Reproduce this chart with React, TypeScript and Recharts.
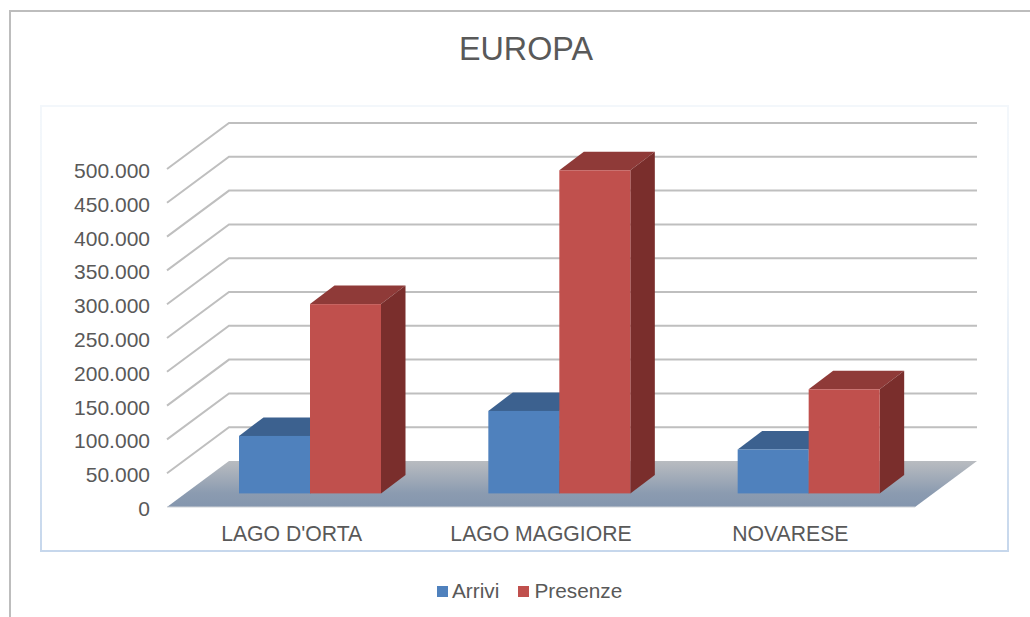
import React from "react";
import { BarChart, Bar, XAxis, YAxis, CartesianGrid, Legend } from "recharts";

const categories = ["LAGO D'ORTA", "LAGO MAGGIORE", "NOVARESE"];
const arrivi = [85000, 122000, 65000];
const presenze = [280000, 478000, 154000];
const yTicks = [0, 50000, 100000, 150000, 200000, 250000, 300000, 350000, 400000, 450000, 500000];
const rows = categories.map((name, i) => ({ name, arrivi: arrivi[i], presenze: presenze[i] }));

const FONT = "'Liberation Sans', Arial, sans-serif";
const TEXT = "#595959";
const WALL_DX = 62;
const WALL_DY = 46;
const BAR_DX = 18;
const BAR_DY = 13.6;
const DEPTH_X = 24.5;
const DEPTH_Y = 18.5;

const fmt = (v: number) => (v === 0 ? "0" : `${Math.round(v / 1000)}.000`);

function GridLine(props: any) {
  const { x1, x2, y1, y, height } = props;
  const isFloor = Math.abs(y1 - (y + height)) < 0.5;
  return (
    <g>
      {isFloor && (
        <>
          <defs>
            <linearGradient id="floorFill" x1="0" y1="0" x2="0" y2="1">
              <stop offset="0" stopColor="#B9BCC0" />
              <stop offset="0.7" stopColor="#8B9BB0" />
              <stop offset="1" stopColor="#8496AE" />
            </linearGradient>
          </defs>
          <polygon
            points={`${x1},${y1} ${x2},${y1} ${x2 + WALL_DX},${y1 - WALL_DY} ${x1 + WALL_DX},${y1 - WALL_DY}`}
            fill="url(#floorFill)"
          />
          <line x1={x1} y1={y1} x2={x2} y2={y1} stroke="#D0D3D8" strokeWidth={1} />
        </>
      )}
      {!isFloor && (
        <path
          d={`M${x1},${y1} L${x1 + WALL_DX},${y1 - WALL_DY} L${x2 + WALL_DX},${y1 - WALL_DY}`}
          fill="none"
          stroke="#BFBFBF"
          strokeWidth={2}
        />
      )}
    </g>
  );
}

function Box3D(props: any) {
  const { x, y, width, height, front, top, side } = props;
  const l = x + BAR_DX;
  const r = l + width;
  const t = y - BAR_DY;
  const b = y + height - BAR_DY;
  return (
    <g>
      <polygon
        points={`${l},${t} ${l + DEPTH_X},${t - DEPTH_Y} ${r + DEPTH_X},${t - DEPTH_Y} ${r},${t}`}
        fill={top}
      />
      <polygon
        points={`${r},${t} ${r + DEPTH_X},${t - DEPTH_Y} ${r + DEPTH_X},${b - DEPTH_Y} ${r},${b}`}
        fill={side}
      />
      <rect x={l} y={t} width={width} height={b - t} fill={front} />
    </g>
  );
}

function LegendRow({ payload }: any) {
  return (
    <div
      style={{
        display: "flex",
        justifyContent: "flex-start",
        alignItems: "center",
        fontFamily: FONT,
        fontSize: 20.8,
        color: TEXT,
        height: 28,
        paddingLeft: 437,
      }}
    >
      {(payload || []).map((p: any, i: number) => (
        <span key={p.value} style={{ display: "flex", alignItems: "center", marginRight: i === 0 ? 19 : 0 }}>
          <span style={{ width: 11, height: 11, background: p.color, marginRight: i === 0 ? 4 : 5, display: "inline-block" }} />
          {p.value}
        </span>
      ))}
    </div>
  );
}

export default function App() {
  return (
    <div style={{ position: "absolute", left: 0, top: 0, width: 1030, height: 617, background: "#fff", overflow: "hidden" }}>
      <div style={{ position: "absolute", left: 9, top: 10, width: 1030, height: 620, borderLeft: "2px solid #BDBDBD", borderTop: "2px solid #BDBDBD", boxSizing: "border-box" }} />
      <div
        style={{
          position: "absolute",
          left: 40,
          top: 105,
          width: 969,
          height: 447,
          boxSizing: "border-box",
          borderStyle: "solid",
          borderWidth: 2,
          borderImage: "linear-gradient(to bottom, #F3F7FB 0%, #F0F5FA 40%, #C6D7EC 100%) 1",
        }}
      />
      <div
        style={{
          position: "absolute",
          left: 0,
          width: 1052,
          top: 27,
          textAlign: "center",
          fontFamily: FONT,
          fontSize: 32.3,
          lineHeight: "44px",
          color: TEXT,
        }}
      >
        EUROPA
      </div>
      <div style={{ position: "absolute", left: 0, top: 0 }}>
        <BarChart
          width={1030}
          height={617}
          data={rows}
          barGap={0}
          barSize={71}
          margin={{ top: 169, right: 115, bottom: 30, left: 0 }}
        >
          <CartesianGrid vertical={false} horizontal={(p: any) => <GridLine key={p.key} {...p} />} />
          <XAxis
            dataKey="name"
            axisLine={false}
            tickLine={false}
            height={50}
            interval={0}
            tickMargin={13}
            tick={{ fontFamily: FONT, fontSize: 21.2, fill: TEXT }}
          />
          <YAxis
            width={167}
            domain={[0, 500000]}
            ticks={yTicks}
            interval={0}
            axisLine={false}
            tickLine={false}
            tickSize={0}
            tickMargin={17}
            tickFormatter={fmt}
            tick={{ fontFamily: FONT, fontSize: 21, fill: TEXT, dy: 1.5 }}
          />
          <Legend
            height={30}
            content={<LegendRow />}
            wrapperStyle={{ left: 0, top: 577, width: 1030, bottom: "auto" }}
          />
          <Bar
            dataKey="arrivi"
            name="Arrivi"
            fill="#4F81BD"
            isAnimationActive={false}
            shape={(p: any) => <Box3D {...p} front="#4F81BD" top="#3C618F" side="#2F4F75" />}
          />
          <Bar
            dataKey="presenze"
            name="Presenze"
            fill="#C0504D"
            isAnimationActive={false}
            shape={(p: any) => <Box3D {...p} front="#C0504D" top="#8F3A38" side="#7A2E2C" />}
          />
        </BarChart>
      </div>
    </div>
  );
}
